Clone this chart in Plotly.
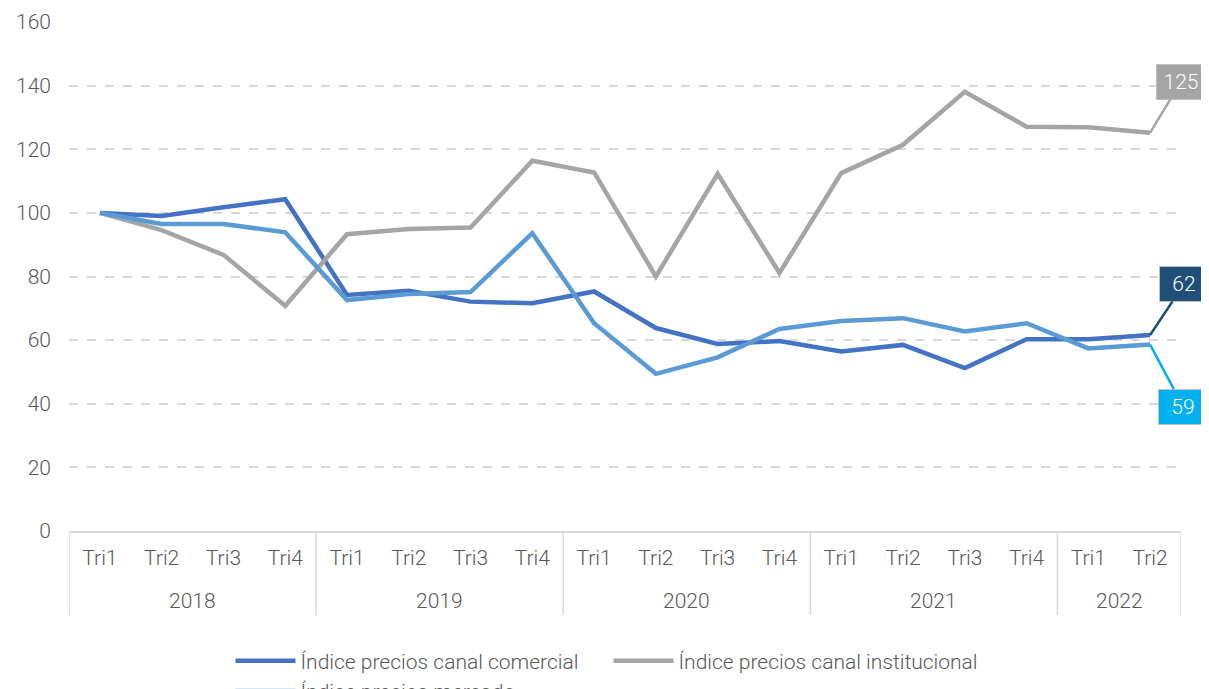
import plotly.graph_objects as go

years = ["2018", "2019", "2020", "2021", "2022"]
quarters_per_year = [4, 4, 4, 4, 2]
quarters = ["Tri1", "Tri2", "Tri3", "Tri4"] * 4 + ["Tri1", "Tri2"]

comercial = [100, 99.0, 101.8, 104.3, 74.2, 75.5, 72.1, 71.6, 75.3, 63.8, 58.8, 59.7,
             56.4, 58.5, 51.2, 60.3, 60.3, 61.6]
institucional = [100, 94.6, 86.8, 70.8, 93.3, 94.9, 95.4, 116.4, 112.7, 80.0, 112.3, 81.1,
                 112.5, 121.4, 138.1, 127.1, 126.9, 125.2]
mercado = [100, 96.5, 96.5, 93.9, 72.6, 74.5, 75.1, 93.6, 65.3, 49.4, 54.6, 63.5,
           66.0, 66.9, 62.7, 65.3, 57.4, 58.6]

names = ["Índice precios canal comercial", "Índice precios canal institucional",
         "Índice precios mercado"]
colors = ["#4472C4", "#A5A5A5", "#5B9BD5"]
series = [comercial, institucional, mercado]

FONT = "Roboto, sans-serif"
TXT = "#595959"
GRID = "#D9D9D9"

# page body has an 8px default margin, so the figure is drawn 8px smaller
W, H = 1201, 681
ML, MR, MT, MB = 61, 28, 14, 158
plot_h = H - MT - MB

xi = list(range(len(quarters)))

fig = go.Figure()
for name, col, vals in zip(names, colors, series):
    fig.add_trace(go.Scatter(x=xi, y=vals, mode="lines", name=name,
                             line=dict(color=col, width=4.5)))

# year labels and group dividers
div_bottom = -84 / plot_h
year_y = -70 / plot_h
start = 0
bounds = [-0.5]
for yr, n in zip(years, quarters_per_year):
    center = start + (n - 1) / 2
    fig.add_annotation(x=center, y=year_y, xref="x", yref="paper", text=yr,
                       showarrow=False, yanchor="middle",
                       font=dict(family=FONT, size=21, color=TXT, weight=300))
    start += n
    bounds.append(start - 0.5)
for b in bounds:
    fig.add_shape(type="line", x0=b, x1=b, y0=0, y1=div_bottom, xref="x", yref="paper",
                  line=dict(color=GRID, width=1.5))

last = len(quarters) - 1
labels = [
    (institucional[-1], "#A5A5A5", 31, -51),
    (comercial[-1], "#1F4E79", 34, -51),
    (mercado[-1], "#00B0F0", 33, 62),
]
for val, col, axo, ayo in labels:
    fig.add_annotation(x=last, y=val, xref="x", yref="y", text=f"{round(val)}",
                       showarrow=True, arrowhead=0, arrowwidth=2.5, arrowcolor=col,
                       ax=axo, ay=ayo, bgcolor=col, bordercolor="#BFBFBF", borderwidth=1,
                       borderpad=3, width=42, height=28,
                       font=dict(family=FONT, size=21, color="white", weight=300))

fig.update_layout(
    width=W, height=H,
    margin=dict(l=ML, r=MR, t=MT, b=MB),
    paper_bgcolor="white", plot_bgcolor="white",
    font=dict(family=FONT, size=21, color=TXT, weight=300),
    showlegend=True,
    legend=dict(orientation="h", xref="container", yref="container",
                x=0.5, xanchor="center", y=1 - 668 / H, yanchor="middle",
                font=dict(family=FONT, size=21, color=TXT, weight=300),
                itemwidth=60, entrywidth=303, entrywidthmode="pixels"),
    xaxis=dict(range=[-0.5, len(quarters) - 0.5], tickvals=xi, ticktext=quarters,
               showgrid=False, showline=True, linecolor=GRID, linewidth=1.5,
               zeroline=False, ticks="", ticklabelstandoff=7, automargin=False,
               tickfont=dict(family=FONT, size=21, color=TXT, weight=300)),
    yaxis=dict(range=[0, 160], dtick=20, showgrid=True, gridcolor=GRID,
               griddash="dash", gridwidth=1.5, zeroline=False, showline=False,
               ticks="", ticklabelstandoff=17, automargin=False,
               tickfont=dict(family=FONT, size=21, color=TXT, weight=300)),
)

fig.write_html("out.html")
